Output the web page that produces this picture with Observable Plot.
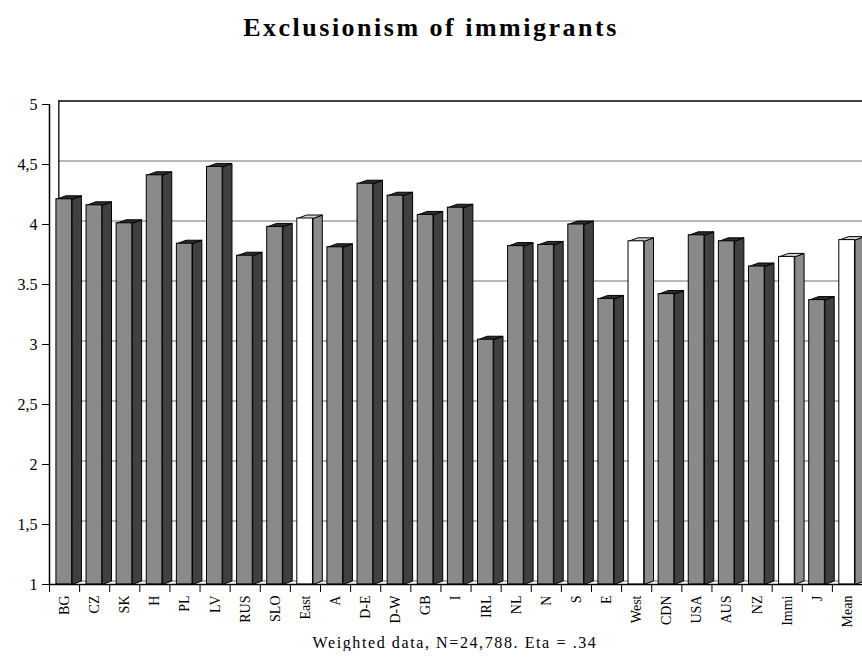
<!DOCTYPE html>
<html>
<head>
<meta charset="utf-8">
<script src="https://cdn.jsdelivr.net/npm/d3@7"></script>
<script src="https://cdn.jsdelivr.net/npm/@observablehq/plot@0.6"></script>
<style>
  html, body { margin: 0; padding: 0; background: #fff; overflow: hidden; }
  body { width: 862px; font-family: "Liberation Serif", "DejaVu Serif", serif; color: #000; }
  #title {
    box-sizing: border-box; height: 60px; padding-top: 15px;
    text-align: center; font-weight: bold; font-size: 26px; line-height: 26px;
    letter-spacing: 2.5px;
  }
  #chart svg { display: block; overflow: hidden; max-width: none; }
  #caption {
    box-sizing: border-box; padding-top: 5px; padding-left: 48px;
    text-align: center; font-family: "Liberation Serif", serif;
    font-size: 16px; line-height: 16px; letter-spacing: 1.6px;
  }
</style>
</head>
<body>
<div id="title">Exclusionism of immigrants</div>
<div id="chart"></div>
<div id="caption">Weighted data, N=24,788. Eta = .34</div>
<script>
// Country / group codes along the x axis
const countries = ["BG", "CZ", "SK", "H", "PL", "LV", "RUS", "SLO", "East",
  "A", "D-E", "D-W", "GB", "I", "IRL", "NL", "N", "S", "E", "West",
  "CDN", "USA", "AUS", "NZ", "Immi", "J", "Mean"];

// Mean exclusionism score per country / group
const scores = [4.21, 4.16, 4.01, 4.41, 3.84, 4.48, 3.74, 3.98, 4.05,
  3.81, 4.34, 4.24, 4.08, 4.14, 3.04, 3.82, 3.83, 4.00, 3.38, 3.86,
  3.42, 3.91, 3.86, 3.65, 3.73, 3.37, 3.87];

// Regional summaries drawn as white bars
const summaryRows = ["East", "West", "Immi", "Mean"];

// Y axis ticks and their printed labels
const yTicks = [1, 1.5, 2, 2.5, 3, 3.5, 4, 4.5, 5];
const yTickLabels = ["1", "1,5", "2", "2,5", "3", "3.5", "4", "4,5", "5"];

// 3D look: bar front face inside each unit band, plus depth offset
const faceStart = 0.23, faceEnd = 0.75;
const depthX = 0.31, depthY = 0.029;

const rows = countries.map((code, i) => ({
  code, i, value: scores[i], summary: summaryRows.includes(code)
}));

// Polygons for side and top faces (closed rings in data space)
const sideFaces = [], topFaces = [];
for (const r of rows) {
  const x0 = r.i + faceStart, x1 = r.i + faceEnd, v = r.value;
  const side = [[x1, 1], [x1 + depthX, 1 + depthY], [x1 + depthX, v + depthY], [x1, v], [x1, 1]];
  const top = [[x0, v], [x1, v], [x1 + depthX, v + depthY], [x0 + depthX, v + depthY], [x0, v]];
  side.forEach(([x, y]) => sideFaces.push({id: r.i, x, y, summary: r.summary}));
  top.forEach(([x, y]) => topFaces.push({id: r.i, x, y, summary: r.summary}));
}

const tickLabel = new Map(yTicks.map((t, i) => [t, yTickLabels[i]]));
const boundaries = d3.range(0, countries.length + 1);
const n = countries.length;

const plot = Plot.plot({
  width: 862,
  height: 570,
  marginLeft: 49,
  marginRight: 0,
  marginTop: 44,
  marginBottom: 46,
  style: {fontFamily: "Liberation Serif, serif", fontSize: "16px", background: "#fff", color: "#000"},
  x: {type: "linear", domain: [0, n], axis: null},
  y: {domain: [1, 5], axis: null},
  marks: [
    // back wall gridlines
    Plot.ruleY(yTicks.filter(t => t < 5), {y: d => d + depthY, x1: depthX, x2: n, stroke: "#6e6e6e", strokeWidth: 1}),
    Plot.ruleY([5], {y: d => d + depthY, x1: depthX, x2: n, stroke: "#000", strokeWidth: 1.3}),
    Plot.ruleX([depthX], {y1: 1, y2: 5 + depthY, stroke: "#000", strokeWidth: 1.3}),
    // bar side faces
    Plot.line(sideFaces.filter(d => !d.summary), {x: "x", y: "y", z: "id", fill: "#404040", stroke: "#000", strokeWidth: 1, curve: "linear"}),
    Plot.line(sideFaces.filter(d => d.summary), {x: "x", y: "y", z: "id", fill: "#8c8c8c", stroke: "#000", strokeWidth: 1, curve: "linear"}),
    // bar top faces
    Plot.line(topFaces.filter(d => !d.summary), {x: "x", y: "y", z: "id", fill: "#2e2e2e", stroke: "#000", strokeWidth: 1, curve: "linear"}),
    Plot.line(topFaces.filter(d => d.summary), {x: "x", y: "y", z: "id", fill: "#d6d6d6", stroke: "#000", strokeWidth: 1, curve: "linear"}),
    // bar front faces
    Plot.rect(rows, {
      x1: d => d.i + faceStart, x2: d => d.i + faceEnd, y1: 1, y2: "value",
      fill: d => d.summary ? "#ffffff" : "#8a8a8a", stroke: "#000", strokeWidth: 1
    }),
    // front axes
    Plot.ruleX([0], {y1: 1, y2: 5, stroke: "#000", strokeWidth: 1.5}),
    Plot.ruleY([1], {x1: 0, x2: n, stroke: "#000", strokeWidth: 1.5}),
    Plot.axisY({ticks: yTicks, tickFormat: d => tickLabel.get(d), tickSize: 7, tickPadding: 5, fontSize: 16, label: null}),
    Plot.axisX({ticks: boundaries, tickFormat: () => "", tickSize: 8, label: null}),
    Plot.text(rows, {x: d => d.i + 0.5, y: 1, text: "code", rotate: -90, textAnchor: "end", dy: 11, fontSize: 14})
  ]
});
document.getElementById("chart").appendChild(plot);
</script>
</body>
</html>
